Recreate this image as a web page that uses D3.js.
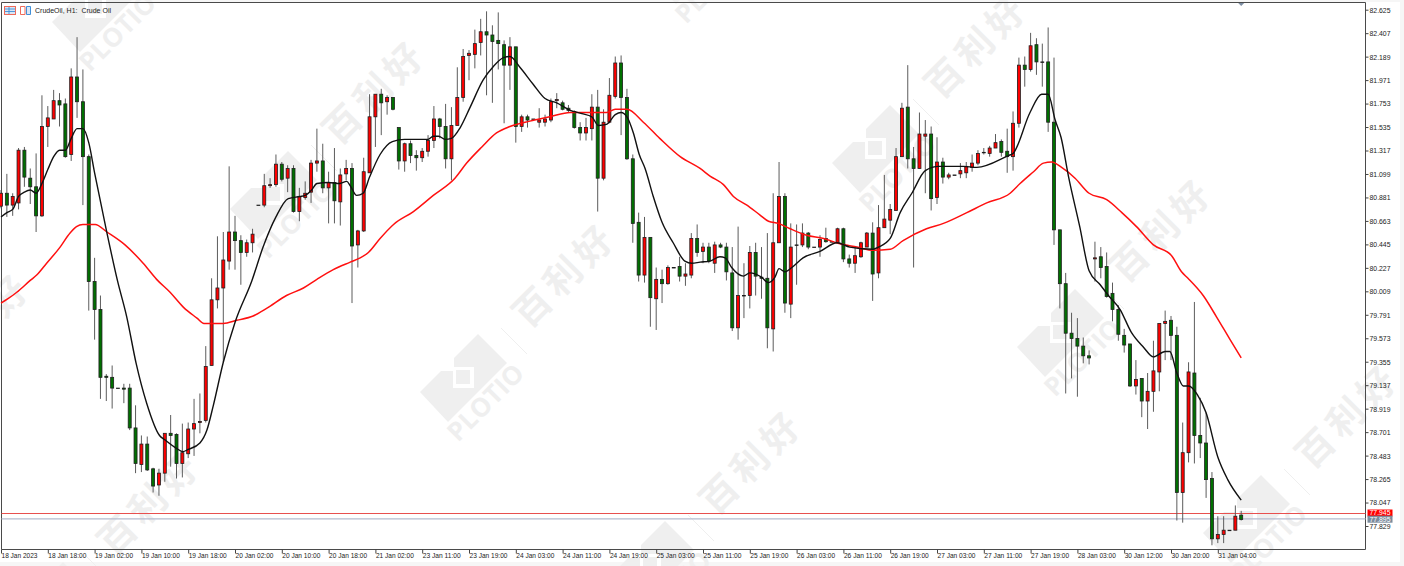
<!DOCTYPE html>
<html>
<head>
<meta charset="utf-8">
<title>CrudeOil H1</title>
<script src="https://cdn.jsdelivr.net/npm/d3@7"></script>
<style>
    html, body { margin: 0; padding: 0; background: #f6f6f6; overflow: hidden; }
    svg { display: block; }
    text { font-family: "Liberation Sans", Arial, sans-serif; }
</style>
</head>
<body>
<div id="chart"></div>
<script>
// prices, one entry per hourly bar
const opens = [
    80.80,80.92,80.81,80.83,81.32,81.06,80.98,80.71,81.54,81.61,81.78,81.75,81.28,82.00,81.77,81.26,80.10,79.84,79.22,79.21,
    79.11,79.11,79.11,78.74,78.40,78.59,78.36,78.21,78.32,78.69,78.68,78.41,78.50,78.73,78.79,78.81,79.32,79.93,80.04,80.29,
    80.56,80.48,80.37,80.46,80.81,80.81,80.99,81.00,81.19,81.06,81.15,80.75,80.88,80.93,81.20,81.22,80.97,81.02,80.84,81.10,
    81.15,80.44,80.57,81.11,81.63,81.84,81.77,81.81,81.53,81.22,81.38,81.27,81.25,81.31,81.41,81.61,81.54,81.24,81.55,81.81,
    82.20,82.21,82.32,82.42,82.39,82.34,82.30,82.11,82.28,81.54,81.63,81.61,81.58,81.58,81.60,81.78,81.76,81.71,81.68,81.53,
    81.48,81.52,81.72,81.06,81.58,81.82,82.13,81.81,81.24,80.65,80.16,80.51,79.94,80.12,80.08,80.23,80.24,80.15,80.16,80.50,
    80.38,80.42,80.27,80.44,80.42,80.18,79.67,79.97,79.97,80.37,80.14,80.13,79.66,80.46,80.89,79.89,80.44,80.44,80.55,80.42,
    80.42,80.50,80.47,80.46,80.59,80.31,80.27,80.33,80.42,80.55,80.18,80.60,80.67,80.76,81.26,81.72,81.24,81.15,81.45,81.47,
    80.88,81.21,81.07,81.09,81.10,81.11,81.16,81.20,81.30,81.29,81.34,81.40,81.31,81.26,81.57,82.11,82.07,82.30,82.14,82.14,
    81.58,80.58,80.08,79.62,79.57,79.50,79.41,80.31,80.33,80.24,79.99,79.84,79.60,79.52,79.13,79.20,78.99,79.08,79.26,79.71,
    79.74,79.60,78.14,78.51,79.25,78.67,78.60,78.27,77.71,77.75,77.79,77.79,77.93
];
const closes = [
    80.92,80.81,80.89,81.32,81.07,80.98,80.71,81.54,81.62,81.78,81.74,81.26,82.00,81.77,81.26,80.10,79.84,79.21,79.21,79.11,
    79.11,79.10,78.74,78.41,78.59,78.35,78.20,78.32,78.69,78.67,78.41,78.51,78.73,78.78,78.80,79.31,79.93,80.04,80.30,80.56,
    80.48,80.37,80.46,80.54,80.81,80.99,81.00,81.19,81.05,81.15,80.75,80.89,80.92,81.20,81.22,80.97,81.02,80.85,81.09,81.15,
    80.43,80.57,81.12,81.63,81.84,81.76,81.81,81.70,81.22,81.38,81.27,81.25,81.31,81.41,81.61,81.54,81.24,81.55,81.81,82.19,
    82.22,82.31,82.42,82.39,82.33,82.31,82.11,82.28,81.54,81.63,81.60,81.61,81.60,81.61,81.77,81.79,81.70,81.69,81.53,81.48,
    81.53,81.72,81.06,81.58,81.83,82.13,81.81,81.24,80.64,80.16,80.51,79.95,80.12,80.08,80.23,80.23,80.15,80.17,80.50,80.37,
    80.42,80.29,80.44,80.42,80.19,79.67,79.97,79.97,80.37,80.15,80.13,79.67,80.46,80.89,79.90,80.42,80.44,80.55,80.42,80.42,
    80.49,80.47,80.47,80.59,80.31,80.27,80.34,80.46,80.55,80.17,80.60,80.68,80.77,81.26,81.71,81.24,81.15,81.47,81.47,80.87,
    81.21,81.07,81.09,81.09,81.13,81.17,81.20,81.29,81.30,81.34,81.39,81.30,81.26,81.57,82.11,82.07,82.29,82.14,82.14,81.58,
    80.58,80.08,79.62,79.57,79.50,79.41,79.39,80.32,80.23,79.96,79.84,79.61,79.51,79.13,79.19,78.99,79.08,79.27,79.71,79.73,
    79.60,78.14,78.51,79.26,78.67,78.60,78.26,77.71,77.75,77.79,77.79,77.92,77.89
];
const highs = [
    80.95,81.10,80.92,81.34,81.35,81.15,81.29,81.83,81.73,81.88,81.85,81.80,82.08,82.37,82.07,81.28,80.32,79.97,79.24,79.32,
    79.11,79.15,79.15,78.95,78.67,78.66,78.37,78.36,78.69,78.86,78.69,78.78,78.79,79.01,79.06,79.50,80.13,80.52,80.56,81.17,
    80.71,80.53,80.49,80.59,80.81,81.10,81.06,81.28,81.21,81.18,81.18,80.97,81.03,81.23,81.52,81.38,81.12,81.34,81.15,81.23,
    81.20,80.58,81.25,81.84,81.84,81.89,81.83,81.81,81.53,81.39,81.41,81.32,81.34,81.46,81.73,81.62,81.75,81.72,82.09,82.26,
    82.25,82.44,82.54,82.61,82.48,82.60,82.34,82.37,82.28,81.65,81.65,81.61,81.71,81.65,81.80,81.85,81.78,81.74,81.69,81.58,
    81.62,81.84,81.88,81.70,81.99,82.19,82.20,81.89,81.28,80.74,80.70,80.51,80.23,80.21,80.25,80.23,80.33,80.27,80.55,80.63,
    80.46,80.46,80.47,80.46,80.46,80.42,80.61,80.27,80.43,80.46,80.42,80.55,80.92,81.21,80.92,80.64,80.63,80.64,80.56,80.42,
    80.53,80.60,80.47,80.60,80.60,80.35,80.42,80.47,80.56,80.65,80.81,81.09,80.82,81.34,81.76,82.11,81.35,81.67,81.60,81.54,
    81.44,81.25,81.11,81.09,81.20,81.21,81.28,81.32,81.34,81.36,81.47,81.42,81.52,81.68,82.18,82.19,82.41,82.36,82.31,82.46,
    82.18,80.58,80.18,79.81,79.76,79.58,79.46,80.47,80.42,80.37,80.09,79.88,79.66,79.52,79.37,79.20,79.25,79.55,79.71,79.83,
    79.78,79.68,78.79,79.35,79.91,79.02,78.88,78.33,77.92,77.92,77.79,78.02,77.97
];
const lows = [
    80.78,80.70,80.71,80.77,80.98,80.82,80.56,80.70,81.35,81.61,81.54,81.25,81.22,81.62,80.81,79.83,79.56,79.01,78.99,78.92,
    79.11,78.97,78.72,78.32,78.33,78.34,78.14,78.11,78.24,78.38,78.27,78.28,78.46,78.48,78.69,78.79,79.32,79.85,79.35,80.21,
    80.21,80.07,80.33,80.37,80.81,80.79,80.97,80.98,81.03,80.93,80.74,80.66,80.86,80.83,81.12,80.92,80.64,80.64,80.62,81.04,
    79.90,80.23,80.56,81.11,81.35,81.46,81.65,81.69,81.14,81.12,81.20,81.13,81.21,81.26,81.34,81.43,81.15,81.04,81.55,81.77,
    81.97,82.08,82.20,81.83,81.76,82.07,81.57,81.88,81.39,81.49,81.53,81.61,81.53,81.54,81.58,81.71,81.69,81.67,81.52,81.41,
    81.41,81.41,80.75,81.04,81.57,81.80,81.46,81.23,80.46,80.10,80.09,79.68,79.65,79.90,80.07,80.23,80.10,80.06,80.13,80.33,
    80.27,80.27,80.18,80.41,80.11,79.64,79.56,79.76,79.85,79.97,79.94,79.48,79.45,80.46,79.81,79.76,80.07,80.42,80.40,80.42,
    80.33,80.46,80.47,80.46,80.28,80.23,80.18,80.32,80.42,79.92,80.13,80.60,80.54,80.76,81.26,81.15,80.23,81.15,80.92,80.76,
    80.82,81.01,81.05,81.09,81.06,81.06,81.12,81.18,81.28,81.26,81.34,81.26,81.11,81.13,81.53,81.91,82.05,82.02,81.91,81.49,
    80.44,79.85,79.06,79.20,79.03,79.34,79.33,80.10,80.13,79.95,79.73,79.55,79.44,79.12,79.05,78.84,78.73,78.89,79.08,79.37,
    79.37,77.88,77.86,78.42,78.41,78.46,78.09,77.65,77.67,77.67,77.79,77.79,77.88
];

// black moving average, sampled where the curve bends
const fastMaBars = [0,1,2,3,4,5,6,7,8,9,10,11,12,13,14,15,16,18,19.9,21.5,23.1,24.9,27.1,28,30,31.1,32,34,35.2,36.3,38,40,42.9,44.8,47,49.1,51.1,52,53.1,54,56,57.9,59.1,59.7,60.8,61.9,63,64.8,66.9,69,73,73.9,74.8,75.9,77,78.5,80.2,82.4,84.2,85.9,87,88.7,91,93,95,97.3,99.3,101,102.1,103.5,105,106,107,108.1,109.1,110.1,111.5,113,114.9,116.9,118.1,119.5,121.2,122.9,123.8,124.9,126.9,128,130,131.2,132.3,133,134,135.2,137.1,140,142.9,145.1,149.1,150,152,153.7,155.7,158,160.3,164.5,166.8,172.2,173,175.9,177.9,179,180.2,181.2,182.5,184.4,186,187.9,189.3,191.3,193.2,195.3,197,199,199.8,201,202.1,203,204.5,206,208,209.7,212];
const fastMaValues = [80.70,80.74,80.77,80.89,80.93,80.95,80.92,81.01,81.14,81.26,81.32,81.32,81.43,81.52,81.52,81.39,81.11,80.58,80.11,79.77,79.34,78.97,78.67,78.63,78.55,78.52,78.54,78.60,78.72,78.95,79.35,79.72,80.11,80.42,80.70,80.87,80.89,80.90,80.95,81.01,81.02,81.01,81.03,80.99,80.90,80.92,81.07,81.28,81.40,81.42,81.42,81.45,81.45,81.42,81.43,81.53,81.72,81.97,82.10,82.18,82.19,82.09,81.93,81.80,81.76,81.69,81.66,81.63,81.55,81.56,81.65,81.67,81.63,81.48,81.28,81.15,80.89,80.65,80.46,80.29,80.27,80.28,80.29,80.33,80.32,80.23,80.15,80.18,80.14,80.09,80.14,80.22,80.19,80.23,80.32,80.38,80.46,80.42,80.40,80.42,80.50,80.74,80.92,81.13,81.17,81.17,81.16,81.27,81.29,81.67,81.84,81.84,81.60,81.44,81.07,80.61,80.20,80.07,79.97,79.84,79.63,79.49,79.40,79.45,79.45,79.25,79.13,79.13,79.05,78.88,78.47,78.26,78.07];

// red moving average, same idea
const slowMaBars = [0,1.2,2.7,5,6.1,7.8,10.1,11.5,12.9,14,16.1,18.1,21.2,24.3,26.6,28.9,31.2,33.5,34.7,38,40.3,43.1,45.4,48.8,51.7,54,56.8,59.7,61.4,62.8,64.8,67.1,70.5,73.9,77.6,79.6,82.2,84.7,87,90.4,93.8,97.3,99.5,103.5,105,107,109.8,112.6,116.1,119.5,121.2,123.5,125.2,127.5,129.7,131.2,132.9,134.9,137.7,140.6,143.4,146.3,149.1,152,154.2,158.2,161.1,165.1,168.5,172.5,174.2,176.5,178.2,179.6,181.3,183.6,186,189,191.6,194.1,197,200.1,201.8,202.9,205.5,207.8,210.1,212];
const slowMaValues = [79.90,79.94,80.00,80.11,80.16,80.27,80.42,80.53,80.61,80.63,80.63,80.56,80.44,80.27,80.12,80.00,79.86,79.76,79.71,79.71,79.74,79.78,79.85,79.97,80.04,80.12,80.21,80.28,80.32,80.37,80.50,80.63,80.75,80.90,81.06,81.20,81.35,81.48,81.54,81.59,81.63,81.67,81.67,81.67,81.70,81.70,81.58,81.43,81.26,81.15,81.08,81.00,80.89,80.81,80.72,80.66,80.64,80.59,80.53,80.50,80.45,80.42,80.39,80.40,80.48,80.59,80.64,80.74,80.83,80.92,81.01,81.12,81.20,81.21,81.16,81.06,80.92,80.86,80.74,80.61,80.44,80.34,80.19,80.13,79.97,79.77,79.56,79.39];

const priceTicks = [82.625,82.407,82.189,81.971,81.753,81.535,81.317,81.099,80.881,80.663,80.445,80.227,80.009,79.791,79.573,79.355,79.137,78.919,78.701,78.483,78.265,78.047,77.829];
const timeLabels = ["18 Jan 2023","18 Jan 18:00","19 Jan 02:00","19 Jan 10:00","19 Jan 18:00","20 Jan 02:00","20 Jan 10:00","20 Jan 18:00","21 Jan 02:00","23 Jan 11:00","23 Jan 19:00","24 Jan 03:00","24 Jan 11:00","24 Jan 19:00","25 Jan 03:00","25 Jan 11:00","25 Jan 19:00","26 Jan 03:00","26 Jan 11:00","26 Jan 19:00","27 Jan 03:00","27 Jan 11:00","27 Jan 19:00","28 Jan 03:00","30 Jan 12:00","30 Jan 20:00","31 Jan 04:00"];
const barsPerLabel = 8;

const bidPrice = 77.945;
const askPrice = 77.895;
const title = "CrudeOil, H1:  Crude Oil";

const width = 1404, height = 566;
const plot = {left: 1.5, right: 1365.5, top: 2.5, bottom: 549.5};

const svg = d3.select("#chart").append("svg")
    .attr("width", width)
    .attr("height", height);

// window chrome around the chart
svg.append("rect").attr("width", width).attr("height", height).attr("fill", "#f6f6f6");
svg.append("rect").attr("x", 0).attr("y", 2).attr("width", 1400).attr("height", 560).attr("fill", "white");

// watermark sits under everything, same stamp repeated
const stampOrigins = [[95,8],[273,195],[463,378],[691,-40],[650,565],[875,149],[1060,333],[1246,519],[-122,428],[48,606]];
const logoShape = "M15,-44 L44,-15 L8,21 L-15,44 L-43,14 L-22,-7 L-9,-7 L-9,-20 Z";
const watermarkColor = "#efefef";

const stamps = svg.append("g").selectAll("g")
    .data(stampOrigins)
    .join("g")
    .attr("transform", d => `translate(${d[0]},${d[1]})`);

stamps.append("path")
    .attr("d", logoShape)
    .attr("fill", watermarkColor);
stamps.append("rect")
    .attr("x", -10).attr("y", -11).attr("width", 21).attr("height", 21)
    .attr("fill", "white");
stamps.append("rect")
    .attr("x", -7).attr("y", -8).attr("width", 14).attr("height", 14)
    .attr("fill", watermarkColor);
stamps.append("line")
    .attr("x1", 38).attr("y1", -50).attr("x2", 64).attr("y2", -24)
    .attr("stroke", watermarkColor)
    .attr("stroke-width", 1);
stamps.append("text")
    .attr("transform", "translate(24,26) rotate(-45)")
    .attr("text-anchor", "middle")
    .attr("dominant-baseline", "middle")
    .attr("font-size", 26)
    .attr("font-weight", "bold")
    .attr("fill", watermarkColor)
    .style("font-family", "'Open Sans', sans-serif")
    .text("PLOTIO");
stamps.append("text")
    .attr("transform", "translate(104,-101) rotate(-45)")
    .attr("text-anchor", "middle")
    .attr("dominant-baseline", "middle")
    .attr("font-size", 37)
    .attr("font-weight", "bold")
    .attr("letter-spacing", 6)
    .attr("fill", watermarkColor)
    .style("font-family", "'Noto Sans CJK SC', sans-serif")
    .text("百利好");

// stamps run off the page, drop the texts that end up fully outside it
stamps.selectAll("text").each(function () {
    const box = this.getBoundingClientRect();
    if (box.right < 0 || box.bottom < 0 || box.left > width || box.top > height) d3.select(this).remove();
});

const scaleX = d3.scaleLinear()
    .domain([0, opens.length - 1])
    .range([1, 1241.2]);

const scaleY = d3.scaleLinear()
    .domain([priceTicks[priceTicks.length - 1], priceTicks[0]])
    .range([526, 9.7]);

// frame
svg.append("path")
    .attr("d", `M${plot.left},${plot.bottom} V${plot.top} H${plot.right} V${plot.bottom} Z`)
    .attr("fill", "none")
    .attr("stroke", "#4a4a4a")
    .attr("stroke-width", 1);

// bid and ask lines
svg.append("line")
    .attr("x1", plot.left).attr("x2", plot.right)
    .attr("y1", scaleY(bidPrice)).attr("y2", scaleY(bidPrice))
    .attr("stroke", "#e8504f")
    .attr("stroke-width", 1);
svg.append("line")
    .attr("x1", plot.left).attr("x2", plot.right)
    .attr("y1", scaleY(askPrice)).attr("y2", scaleY(askPrice))
    .attr("stroke", "#b4bccf")
    .attr("stroke-width", 1.4);

// candles
const bars = svg.append("g")
    .selectAll("g")
    .data(opens.map((d, i) => i))
    .join("g");

bars.append("line")
    .attr("x1", i => scaleX(i)).attr("x2", i => scaleX(i))
    .attr("y1", i => scaleY(highs[i])).attr("y2", i => scaleY(lows[i]))
    .attr("stroke", "#5c5c5c")
    .attr("stroke-width", 1);

const bodyWidth = 3;
bars.append("rect")
    .attr("x", i => scaleX(i) - bodyWidth / 2)
    .attr("width", bodyWidth)
    .attr("y", i => scaleY(Math.max(opens[i], closes[i])))
    .attr("height", i => Math.max(0.5, Math.abs(scaleY(opens[i]) - scaleY(closes[i]))))
    .attr("fill", i => opens[i] === closes[i] ? "#222" : (closes[i] > opens[i] ? "#ff0000" : "#007000"))
    .attr("stroke", "#1e1e1e")
    .attr("stroke-width", 0.8);

// moving averages
const lineOf = (xs, ys) => d3.line()
    .x((d, i) => scaleX(xs[i]))
    .y((d, i) => scaleY(ys[i]))
    .curve(d3.curveMonotoneX)(ys);

svg.append("path")
    .attr("d", lineOf(slowMaBars, slowMaValues))
    .attr("fill", "none")
    .attr("stroke", "#ff1010")
    .attr("stroke-width", 1.5);

svg.append("path")
    .attr("d", lineOf(fastMaBars, fastMaValues))
    .attr("fill", "none")
    .attr("stroke", "#111")
    .attr("stroke-width", 1.4);

// axes
const axisRight = svg.append("g")
    .attr("transform", `translate(${plot.right},0)`)
    .call(d3.axisRight(scaleY).tickValues(priceTicks).tickFormat(d3.format(".3f")).tickSize(3).tickPadding(1));
axisRight.select(".domain").remove();
axisRight.selectAll("text").attr("textLength", 21);

const axisBottom = svg.append("g")
    .attr("transform", `translate(0,${plot.bottom})`)
    .call(d3.axisBottom(scaleX)
        .tickValues(timeLabels.map((d, i) => i * barsPerLabel))
        .tickFormat((d, i) => timeLabels[i])
        .tickSize(4)
        .tickPadding(0));
axisBottom.select(".domain").remove();
axisBottom.selectAll("text")
    .attr("text-anchor", "start")
    .attr("dy", "0.55em")
    .attr("textLength", (d, i) => i === 0 ? 36 : 38);

svg.selectAll(".tick text")
    .attr("font-size", 7.5)
    .attr("lengthAdjust", "spacingAndGlyphs")
    .attr("fill", "#222")
    .style("font-family", "'Liberation Sans', sans-serif");
svg.selectAll(".tick line").attr("stroke", "#444");

// bid / ask tags on the price axis
const tagX = plot.right + 2;
const tags = [
    {price: bidPrice, color: "#ff0000", top: -4, base: 1.9},
    {price: askPrice, color: "#7b8b9c", top: -3.2, base: 2.9}
];
tags.forEach(t => {
    svg.append("rect")
        .attr("x", tagX).attr("y", scaleY(t.price) + t.top)
        .attr("width", 25).attr("height", 7)
        .attr("fill", t.color);
    svg.append("text")
        .attr("x", tagX + 2).attr("y", scaleY(t.price) + t.base)
        .attr("font-size", 6.5)
        .attr("textLength", 21)
        .attr("lengthAdjust", "spacingAndGlyphs")
        .attr("fill", "white")
        .text(d3.format(".3f")(t.price));
});

// the little arrow at the top, above the last bar
svg.append("path")
    .attr("d", `M${scaleX(opens.length - 1) - 3},3 h6 l-3,3 Z`)
    .attr("fill", "#7d8ea3");

// title and the two toolbar icons
const icons = svg.append("g");
icons.append("rect").attr("x", 4.5).attr("y", 6.5).attr("width", 11).attr("height", 8)
    .attr("fill", "#d8e6f5").attr("stroke", "#ee6a5a").attr("stroke-width", 1);
icons.append("path").attr("d", "M9,7 V14 M5,9 H15 M5,11.5 H15")
    .attr("stroke", "#3f8fd8").attr("stroke-width", 0.9).attr("fill", "none");
icons.append("path").attr("d", "M20.5,14.5 V6.5 H25 V14.5 Z")
    .attr("fill", "#fff").attr("stroke", "#ee6a5a");
icons.append("path").attr("d", "M26.5,14.5 V6.5 H30.5 V14.5 Z")
    .attr("fill", "#d8e6f5").attr("stroke", "#3f8fd8");

svg.append("text")
    .attr("x", 35).attr("y", 13)
    .attr("font-size", 7.5)
    .attr("textLength", 76)
    .attr("lengthAdjust", "spacingAndGlyphs")
    .attr("fill", "#222")
    .style("white-space", "pre")
    .text(title);
</script>
</body>
</html>
